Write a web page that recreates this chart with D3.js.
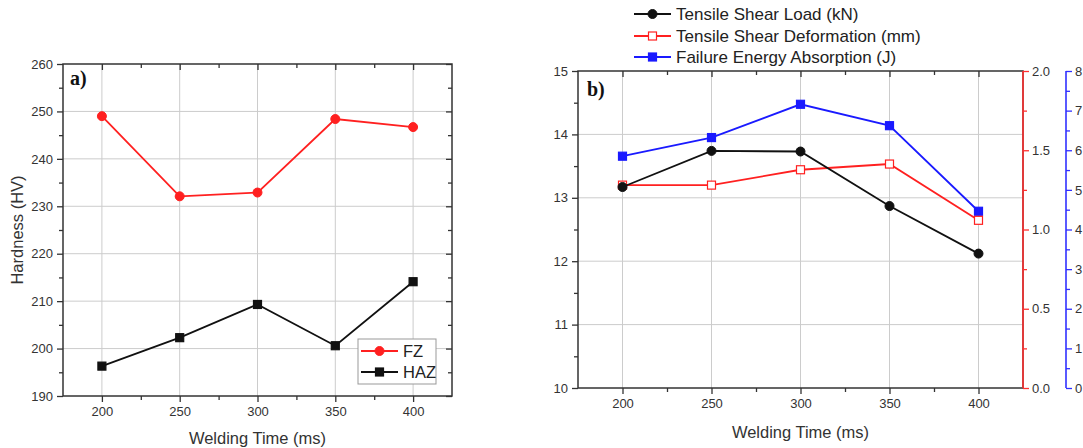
<!DOCTYPE html>
<html>
<head>
<meta charset="utf-8">
<script src="https://cdn.jsdelivr.net/npm/d3@7"></script>
<style>
  body { margin: 0; background: #fff; }
  svg { font-family: "Liberation Sans", Arial, sans-serif; }
  .tick text { fill: #333; }
</style>
</head>
<body>
<svg id="chart" width="1083" height="448"></svg>
<script>
// data
const weldingTimes = [200, 250, 300, 350, 400]
const hardnessFZ = [249.0, 232.1, 232.9, 248.4, 246.7]
const hardnessHAZ = [196.3, 202.3, 209.3, 200.6, 214.1]
const shearLoad = [13.17, 13.74, 13.73, 12.87, 12.12]
const shearDeformation = [1.28, 1.28, 1.377, 1.413, 1.058]
const energyAbsorption = [5.85, 6.32, 7.16, 6.62, 4.46]

const timeTicks = [200, 250, 300, 350, 400]
const hardnessTicks = [190, 200, 210, 220, 230, 240, 250, 260]
const loadTicks = [10, 11, 12, 13, 14, 15]
const deformTicks = [0, 0.5, 1.0, 1.5, 2.0]
const energyTicks = [0, 1, 2, 3, 4, 5, 6, 7, 8]

const svg = d3.select("#chart")

function minor(ticks, step) {
  let out = []
  for (let i = 0; i < ticks.length - 1; i++) out.push(ticks[i] + step)
  return out
}

function frame(g, left, right, top, bottom, rightColor) {
  g.append("rect")
    .attr("x", left).attr("y", top)
    .attr("width", right - left).attr("height", bottom - top)
    .attr("fill", "none").attr("stroke", "#333").attr("stroke-width", 1.5)
  if (rightColor) {
    g.append("line")
      .attr("x1", right).attr("x2", right).attr("y1", top).attr("y2", bottom)
      .attr("stroke", rightColor).attr("stroke-width", 1.6)
  }
}

function styleAxis(sel, color) {
  sel.select(".domain").remove()
  sel.selectAll(".tick line").attr("stroke", color).attr("stroke-width", 1.3)
  sel.selectAll(".tick text").attr("font-size", 13).attr("fill", color)
}

function drawPanel(opts) {
  const g = svg.append("g")
  const { left, right, top, bottom } = opts
  const x = d3.scaleLinear().domain([175, 425]).range([left, right])
  const y = d3.scaleLinear().domain(opts.yDomain).range([bottom, top])

  // grid
  g.append("g").selectAll("line").data(timeTicks).join("line")
    .attr("x1", d => x(d)).attr("x2", d => x(d))
    .attr("y1", top).attr("y2", bottom)
    .attr("stroke", "#ccc").attr("stroke-width", 1)
  g.append("g").selectAll("line").data(opts.yTicks.slice(1, -1)).join("line")
    .attr("x1", left).attr("x2", right)
    .attr("y1", d => y(d)).attr("y2", d => y(d))
    .attr("stroke", "#ccc").attr("stroke-width", 1)

  // bottom axis, major and minor ticks
  g.append("g").attr("transform", `translate(0,${bottom})`)
    .call(d3.axisBottom(x).tickValues(timeTicks).tickSize(6).tickPadding(5))
    .call(s => styleAxis(s, "#333"))
  g.append("g").attr("transform", `translate(0,${bottom})`)
    .call(d3.axisBottom(x).tickValues(minor(timeTicks, 25)).tickSize(4).tickFormat(""))
    .call(s => styleAxis(s, "#333"))
  // top axis ticks, inward
  g.append("g").attr("transform", `translate(0,${top})`)
    .call(d3.axisBottom(x).tickValues(timeTicks).tickSize(6).tickFormat(""))
    .call(s => styleAxis(s, "#333"))
  g.append("g").attr("transform", `translate(0,${top})`)
    .call(d3.axisBottom(x).tickValues(minor(timeTicks, 25)).tickSize(4).tickFormat(""))
    .call(s => styleAxis(s, "#333"))

  // left axis
  const ystep = opts.yTicks[1] - opts.yTicks[0]
  g.append("g").attr("transform", `translate(${left},0)`)
    .call(d3.axisLeft(y).tickValues(opts.yTicks).tickSize(6).tickPadding(4).tickFormat(d3.format("d")))
    .call(s => styleAxis(s, "#333"))
  g.append("g").attr("transform", `translate(${left},0)`)
    .call(d3.axisLeft(y).tickValues(minor(opts.yTicks, ystep / 2)).tickSize(4).tickFormat(""))
    .call(s => styleAxis(s, "#333"))

  if (opts.mirrorRight) {
    g.append("g").attr("transform", `translate(${right},0)`)
      .call(d3.axisLeft(y).tickValues(opts.yTicks).tickSize(6).tickFormat(""))
      .call(s => styleAxis(s, "#333"))
    g.append("g").attr("transform", `translate(${right},0)`)
      .call(d3.axisLeft(y).tickValues(minor(opts.yTicks, ystep / 2)).tickSize(4).tickFormat(""))
      .call(s => styleAxis(s, "#333"))
  }

  frame(g, left, right, top, bottom, opts.rightColor)

  // titles
  g.append("text")
    .attr("x", (left + right) / 2).attr("y", opts.xTitleY)
    .attr("text-anchor", "middle").attr("font-size", 16.5).attr("fill", "#333")
    .text("Welding Time (ms)")
  if (opts.yTitle) {
    g.append("text")
      .attr("transform", `translate(${opts.yTitleX},${(top + bottom) / 2}) rotate(-90)`)
      .attr("text-anchor", "middle").attr("font-size", 16.5).attr("fill", "#333")
      .text(opts.yTitle)
  }
  g.append("text")
    .attr("x", opts.tag[0]).attr("y", opts.tag[1])
    .attr("font-family", "Liberation Serif, Times New Roman, serif")
    .attr("font-weight", "bold").attr("font-size", 20).attr("fill", "#111")
    .text(opts.tagText)

  return { g, x, y }
}

function series(g, x, y, values, color, marker, fill) {
  const pts = weldingTimes.map((t, i) => [x(t), y(values[i])])
  g.append("path")
    .attr("d", d3.line()(pts))
    .attr("fill", "none").attr("stroke", color).attr("stroke-width", 1.8)
  const m = g.append("g")
  if (marker === "circle") {
    m.selectAll("circle").data(pts).join("circle")
      .attr("cx", d => d[0]).attr("cy", d => d[1]).attr("r", 4.5)
      .attr("fill", fill || color).attr("stroke", color)
  } else {
    m.selectAll("rect").data(pts).join("rect")
      .attr("x", d => d[0] - 4).attr("y", d => d[1] - 4)
      .attr("width", 8).attr("height", 8)
      .attr("fill", fill || color).attr("stroke", color).attr("stroke-width", 1.2)
  }
}

function legendRow(g, lx, ly, color, marker, fill, label, len, size) {
  g.append("line")
    .attr("x1", lx).attr("x2", lx + len).attr("y1", ly).attr("y2", ly)
    .attr("stroke", color).attr("stroke-width", 1.8)
  const cx = lx + len / 2
  if (marker === "circle") {
    g.append("circle").attr("cx", cx).attr("cy", ly).attr("r", 4.5)
      .attr("fill", fill || color).attr("stroke", color)
  } else {
    g.append("rect").attr("x", cx - 4).attr("y", ly - 4).attr("width", 8).attr("height", 8)
      .attr("fill", fill || color).attr("stroke", color).attr("stroke-width", 1.2)
  }
  g.append("text")
    .attr("x", lx + len + 5).attr("y", ly + 6)
    .attr("font-size", size).attr("fill", "#222")
    .text(label)
}

// ---- panel a ----
const a = drawPanel({
  left: 63, right: 452, top: 64, bottom: 396,
  yDomain: [190, 260], yTicks: hardnessTicks,
  mirrorRight: true,
  xTitleY: 444, yTitle: "Hardness (HV)", yTitleX: 23,
  tag: [70, 85], tagText: "a)"
})
series(a.g, a.x, a.y, hardnessFZ, "#ff2020", "circle")
series(a.g, a.x, a.y, hardnessHAZ, "#111", "square")

a.g.append("rect")
  .attr("x", 358).attr("y", 339).attr("width", 78).attr("height", 45)
  .attr("fill", "#fff").attr("stroke", "#999").attr("stroke-width", 1)
legendRow(a.g, 361, 351, "#ff2020", "circle", null, "FZ", 37, 16.5)
legendRow(a.g, 361, 372, "#111", "square", null, "HAZ", 37, 16.5)

// ---- panel b ----
const bTop = 71, bBottom = 388, bRight = 1023, blueX = 1066
const b = drawPanel({
  left: 578, right: bRight, top: bTop, bottom: bBottom,
  yDomain: [10, 15], yTicks: loadTicks,
  mirrorRight: false, rightColor: "#ff3030",
  xTitleY: 438,
  tag: [587, 96], tagText: "b)"
})

const yDeform = d3.scaleLinear().domain([0, 2]).range([bBottom, bTop])
const yEnergy = d3.scaleLinear().domain([0, 8]).range([bBottom, bTop])

b.g.append("g").attr("transform", `translate(${bRight},0)`)
  .call(d3.axisRight(yDeform).tickValues(deformTicks).tickSize(6).tickPadding(3).tickFormat(d3.format(".1f")))
  .call(s => styleAxis(s, "#ff3030"))
b.g.append("g").attr("transform", `translate(${bRight},0)`)
  .call(d3.axisRight(yDeform).tickValues(minor(deformTicks, 0.25)).tickSize(4).tickFormat(""))
  .call(s => styleAxis(s, "#ff3030"))

b.g.append("line")
  .attr("x1", blueX).attr("x2", blueX).attr("y1", bTop).attr("y2", bBottom)
  .attr("stroke", "#3030ff").attr("stroke-width", 1.6)
b.g.append("g").attr("transform", `translate(${blueX},0)`)
  .call(d3.axisRight(yEnergy).tickValues(energyTicks).tickSize(6).tickPadding(3).tickFormat(d3.format("d")))
  .call(s => styleAxis(s, "#3030ff"))
b.g.append("g").attr("transform", `translate(${blueX},0)`)
  .call(d3.axisRight(yEnergy).tickValues(minor(energyTicks, 0.5)).tickSize(4).tickFormat(""))
  .call(s => styleAxis(s, "#3030ff"))

series(b.g, b.x, yEnergy, energyAbsorption, "#1a1aff", "square")
series(b.g, b.x, yDeform, shearDeformation, "#ff2020", "square", "#fff")
series(b.g, b.x, b.y, shearLoad, "#111", "circle")

legendRow(b.g, 634, 14, "#111", "circle", null, "Tensile Shear Load (kN)", 37, 17)
legendRow(b.g, 634, 36, "#ff2020", "square", "#fff", "Tensile Shear Deformation (mm)", 37, 17)
legendRow(b.g, 634, 57, "#1a1aff", "square", null, "Failure Energy Absorption (J)", 37, 17)
</script>
</body>
</html>
